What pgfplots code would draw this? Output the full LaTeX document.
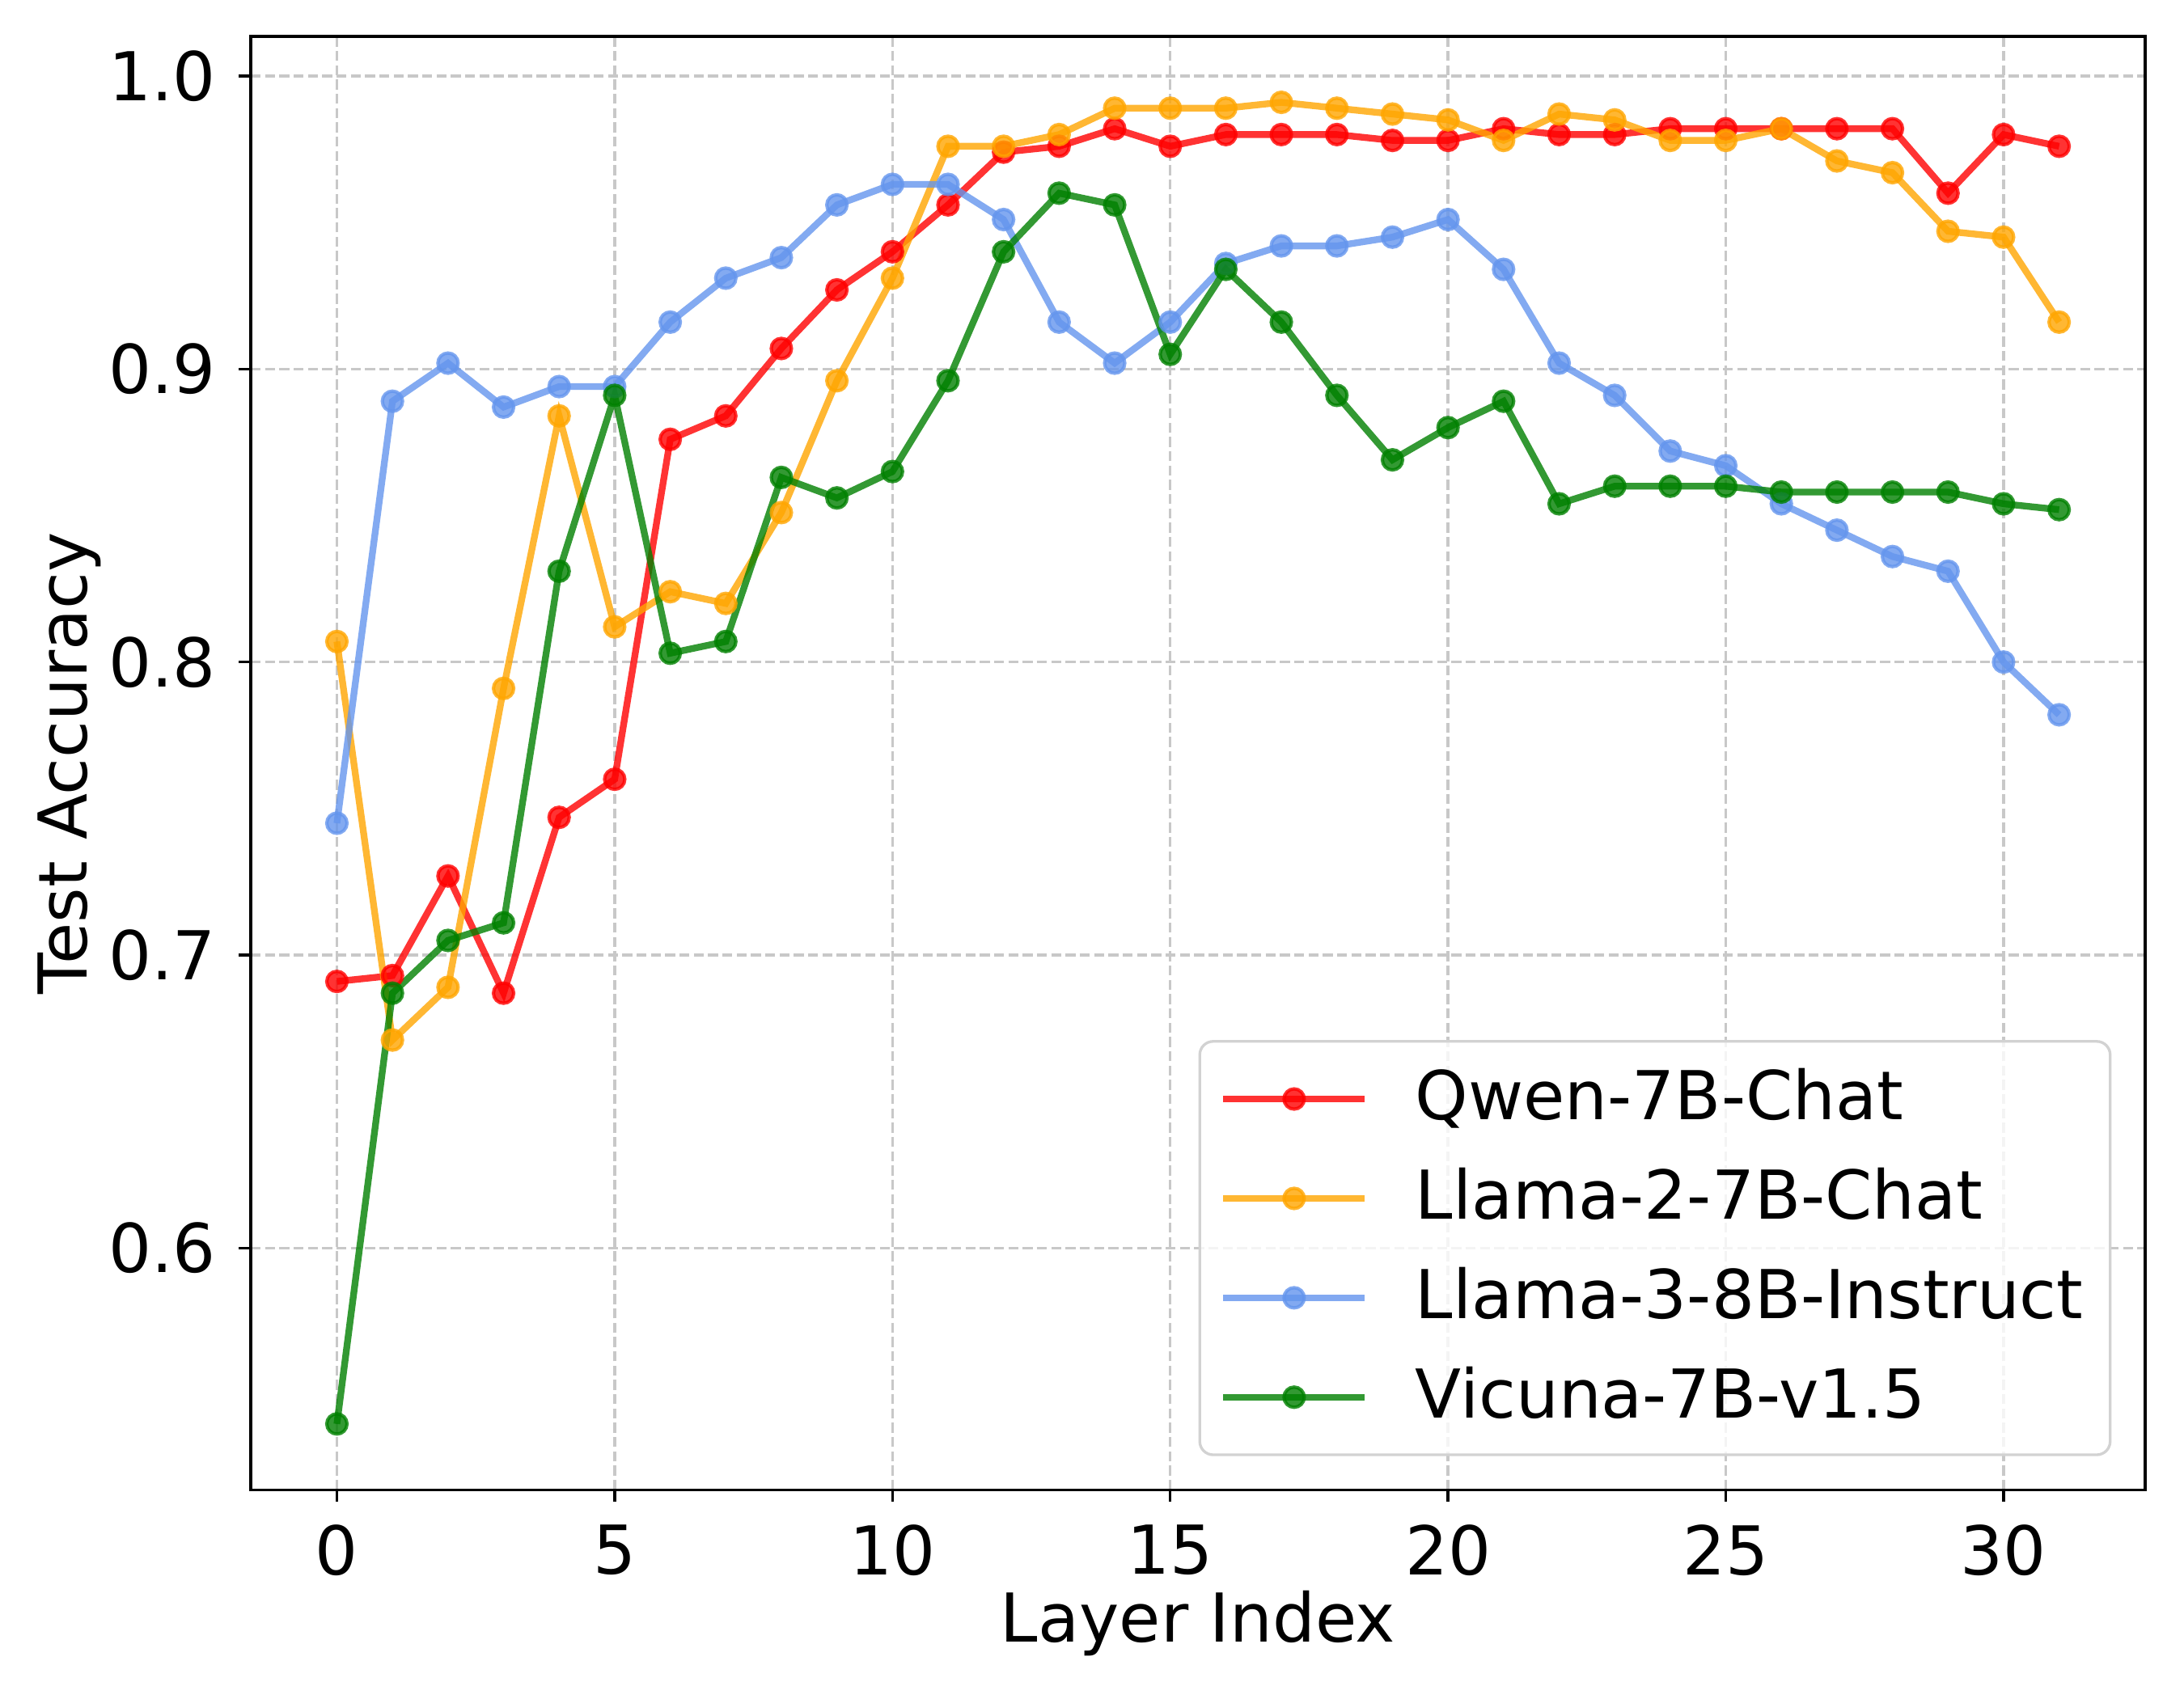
\documentclass[border=0pt]{standalone}
\usepackage{fontspec}
\setmainfont{DejaVu Sans}
\usepackage{pgfplots}
\pgfplotsset{compat=1.18}
\definecolor{cred}{RGB}{255,0,0}
\definecolor{corange}{RGB}{255,165,0}
\definecolor{cblue}{RGB}{100,149,237}
\definecolor{cgreen}{RGB}{0,128,0}
\definecolor{gridgray}{RGB}{200,200,200}
\definecolor{leggray}{RGB}{210,210,210}
\newcommand{\bigf}{\fontsize{20}{24}\selectfont}
\begin{document}
\bigf
\begin{tikzpicture}
\begin{axis}[
  scale only axis, width=562pt, height=431.3pt,
  xmin=-1.55, xmax=32.55, ymin=0.5175, ymax=1.0135,
  xtick={0,5,10,15,20,25,30},
  ytick={0.6,0.7,0.8,0.9,1.0},
  /pgf/number format/assume math mode=true,
  yticklabel style={/pgf/number format/.cd, fixed, fixed zerofill, precision=1},
  tick label style={font=\bigf},
  label style={font=\bigf},
  xlabel={Layer Index}, ylabel={Test Accuracy},
  xlabel style={at={(axis description cs:0.5,-0.0916)}, anchor=center},
  ylabel style={at={(axis description cs:-0.0957,0.5)}, anchor=center},
  tick align=outside, major tick length=3.5pt,
  every tick/.style={line width=0.8pt, black},
  xtick pos=bottom, ytick pos=left,
  axis line style={line width=0.8pt},
  grid=major,
  major grid style={dash pattern=on 2.96pt off 1.28pt, line width=0.8pt, color=gridgray},
  legend cell align=left,
  legend style={at={(1,0)}, anchor=south east, xshift=-10pt, yshift=10pt,
    font=\bigf, draw=leggray, line width=0.8pt, rounded corners=4pt,
    fill=white, fill opacity=0.8, text opacity=1,
    inner xsep=6pt, inner ysep=6pt, row sep=7.3pt, column sep=12pt},
  legend image code/.code={\draw[mark repeat=2, mark phase=2] plot coordinates {(0pt,0pt) (21pt,0pt) (42pt,0pt)};},
  every axis plot/.append style={line width=2pt, opacity=0.8, mark=*, mark size=3pt, mark options={line width=1pt, solid}},
]
\addplot[color=cred] coordinates {
(0,0.691) (1,0.693) (2,0.727) (3,0.687) (4,0.747) (5,0.760) (6,0.876) (7,0.884)
(8,0.907) (9,0.927) (10,0.940) (11,0.956) (12,0.974) (13,0.976) (14,0.982) (15,0.976)
(16,0.980) (17,0.980) (18,0.980) (19,0.978) (20,0.978) (21,0.982) (22,0.980) (23,0.980)
(24,0.982) (25,0.982) (26,0.982) (27,0.982) (28,0.982) (29,0.960) (30,0.980) (31,0.976)};
\addlegendentry{Qwen-7B-Chat}
\addplot[color=corange] coordinates {
(0,0.807) (1,0.671) (2,0.689) (3,0.791) (4,0.884) (5,0.812) (6,0.824) (7,0.820)
(8,0.851) (9,0.896) (10,0.931) (11,0.976) (12,0.976) (13,0.980) (14,0.989) (15,0.989)
(16,0.989) (17,0.991) (18,0.989) (19,0.987) (20,0.985) (21,0.978) (22,0.987) (23,0.985)
(24,0.978) (25,0.978) (26,0.982) (27,0.971) (28,0.967) (29,0.947) (30,0.945) (31,0.916)};
\addlegendentry{Llama-2-7B-Chat}
\addplot[color=cblue] coordinates {
(0,0.745) (1,0.889) (2,0.902) (3,0.887) (4,0.894) (5,0.894) (6,0.916) (7,0.931)
(8,0.938) (9,0.956) (10,0.963) (11,0.963) (12,0.951) (13,0.916) (14,0.902) (15,0.916)
(16,0.936) (17,0.942) (18,0.942) (19,0.945) (20,0.951) (21,0.934) (22,0.902) (23,0.891)
(24,0.872) (25,0.867) (26,0.854) (27,0.845) (28,0.836) (29,0.831) (30,0.800) (31,0.782)};
\addlegendentry{Llama-3-8B-Instruct}
\addplot[color=cgreen] coordinates {
(0,0.540) (1,0.687) (2,0.705) (3,0.711) (4,0.831) (5,0.891) (6,0.803) (7,0.807)
(8,0.863) (9,0.856) (10,0.865) (11,0.896) (12,0.940) (13,0.960) (14,0.956) (15,0.905)
(16,0.934) (17,0.916) (18,0.891) (19,0.869) (20,0.880) (21,0.889) (22,0.854) (23,0.860)
(24,0.860) (25,0.860) (26,0.858) (27,0.858) (28,0.858) (29,0.858) (30,0.854) (31,0.852)};
\addlegendentry{Vicuna-7B-v1.5}
\end{axis}
\pgfresetboundingbox
\path[use as bounding box] ([shift={(-74.4pt,-61.9pt)}]current axis.south west) rectangle ([shift={(11.5pt,10.8pt)}]current axis.north east);
\end{tikzpicture}
\end{document}
